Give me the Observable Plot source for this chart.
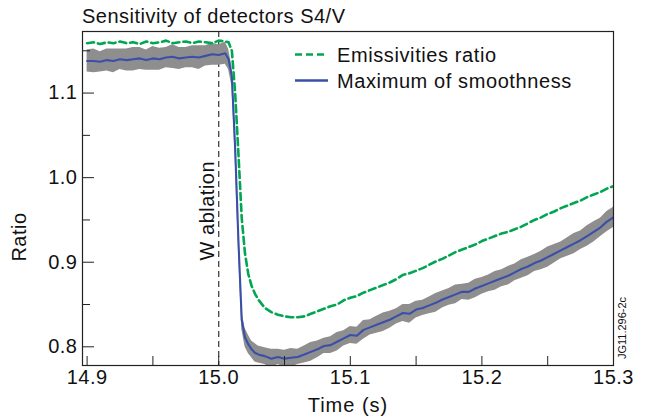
<!DOCTYPE html>
<html><head><meta charset="utf-8">
<script src="https://cdn.jsdelivr.net/npm/d3@7"></script>
<script src="https://cdn.jsdelivr.net/npm/@observablehq/plot@0.6"></script>
<style>
body{margin:0;background:#fff;font-family:"Liberation Sans",Arial,Helvetica,sans-serif;}
#wrap{position:relative;width:646px;height:420px;overflow:hidden;}
#wrap svg.ov{position:absolute;left:0;top:0;pointer-events:none;}
#wrap svg text{letter-spacing:0.5px;}
</style></head><body><div id="wrap"></div>
<script>
const time = [14.900,14.905,14.910,14.915,14.920,14.925,14.930,14.935,14.940,14.945,14.950,14.955,14.960,14.965,14.970,14.975,14.980,14.985,14.990,14.995,15.000,15.005,
15.0075,15.010,15.0125,15.015,15.0175,15.020,15.0225,15.025,15.0275,15.030,
15.035,15.040,15.045,15.050,15.055,15.060,15.065,15.070,15.075,15.080,
15.085,15.090,15.095,15.100,15.105,15.110,15.115,15.120,15.125,15.130,
15.135,15.140,15.145,15.150,15.155,15.160,15.165,15.170,15.175,15.180,
15.185,15.190,15.195,15.200,15.205,15.210,15.215,15.220,15.225,15.230,
15.235,15.240,15.245,15.250,15.255,15.260,15.265,15.270,15.275,15.280,
15.285,15.290,15.295,15.300];
const emissivityRatio = [1.159,1.160,1.158,1.160,1.159,1.161,1.159,1.160,1.158,1.161,1.159,1.160,1.162,1.159,1.160,1.161,1.159,1.161,1.160,1.159,1.162,1.161,
1.160,1.150,1.100,1.028,0.952,0.910,0.886,0.872,0.863,0.856,
0.846,0.841,0.838,0.836,0.835,0.835,0.836,0.839,0.842,0.845,
0.848,0.850,0.855,0.858,0.860,0.864,0.867,0.870,0.873,0.876,
0.880,0.885,0.887,0.890,0.893,0.897,0.901,0.904,0.908,0.912,
0.915,0.918,0.921,0.925,0.928,0.931,0.934,0.936,0.939,0.942,
0.946,0.950,0.953,0.957,0.960,0.964,0.967,0.970,0.973,0.977,
0.980,0.983,0.987,0.990];
const maxSmoothness = [1.138,1.138,1.137,1.139,1.138,1.140,1.139,1.140,1.141,1.139,1.141,1.140,1.142,1.143,1.141,1.142,1.143,1.142,1.144,1.146,1.145,1.147,
1.140,1.120,1.035,0.925,0.832,0.811,0.803,0.797,0.793,0.791,
0.789,0.786,0.788,0.786,0.787,0.788,0.791,0.794,0.797,0.801,
0.802,0.806,0.810,0.814,0.813,0.820,0.823,0.826,0.829,0.832,
0.836,0.840,0.839,0.844,0.846,0.849,0.852,0.856,0.859,0.862,
0.865,0.865,0.869,0.872,0.875,0.878,0.881,0.884,0.888,0.892,
0.895,0.899,0.902,0.906,0.910,0.914,0.918,0.922,0.926,0.931,
0.936,0.941,0.948,0.953];
const uncertainty = [0.013,0.014,0.012,0.013,0.014,0.012,0.013,0.014,0.013,0.012,0.014,0.013,0.012,0.014,0.013,0.012,0.013,0.014,0.012,0.013,0.012,0.013,
0.012,0.012,0.011,0.011,0.011,0.011,0.011,0.010,0.011,0.010,
0.010,0.011,0.009,0.010,0.011,0.009,0.010,0.011,0.010,0.009,
0.010,0.011,0.009,0.010,0.010,0.011,0.009,0.010,0.011,0.010,
0.009,0.010,0.011,0.010,0.009,0.010,0.011,0.010,0.010,0.011,
0.009,0.010,0.011,0.010,0.010,0.011,0.010,0.011,0.010,0.011,
0.011,0.010,0.011,0.012,0.011,0.010,0.011,0.012,0.011,0.012,
0.012,0.011,0.012,0.012];
const xMajorTicks = [14.9,15.0,15.1,15.2,15.3];
const xMinorTicks = [14.95,15.05,15.15,15.25];
const yMajorTicks = [0.8,0.9,1.0,1.1];
const yMinorTicks = [0.85,0.95,1.05,1.15];
const events = [15.0];
const annotations = [{t:15.0, v:0.961, label:"W ablation"}];
const seriesNames = ["Emissivities ratio","Maximum of smoothness"];
const titleText = "Sensitivity of detectors S4/V";
const xLabel = "Time (s)";
const yLabel = "Ratio";
const figureId = "JG11.296-2c";

const rows = time.map((t,i)=>({t, e:emissivityRatio[i], m:maxSmoothness[i], s:uncertainty[i]}));
const GREEN="#00a651", BLUE="#3a50a8", GRAY="#8e8e8e";
const FONT='"Liberation Sans",Arial,Helvetica,sans-serif';

const chart = Plot.plot({
  width:646, height:420,
  marginLeft:82, marginRight:33, marginTop:31, marginBottom:55,
  style:{fontFamily:FONT, fontSize:"20px", color:"#111", background:"transparent"},
  x:{domain:[14.8965,15.3]},
  y:{domain:[0.7779,1.1728]},
  marks:[
    Plot.ruleX(events,{stroke:"#444", strokeDasharray:"6,4", strokeWidth:1.3}),
    Plot.areaY(rows,{x:"t", y1:d=>d.m-d.s, y2:d=>d.m+d.s, fill:GRAY, clip:true}),
    Plot.line(rows,{x:"t", y:"m", stroke:BLUE, strokeWidth:2.1, clip:true}),
    Plot.line(rows,{x:"t", y:"e", stroke:GREEN, strokeWidth:2.6, strokeDasharray:"7,4", clip:true}),
    Plot.text(annotations,{x:"t", y:"v", text:"label", rotate:-90, dx:-11, fontSize:20, fill:"#111"}),
    Plot.axisX(xMajorTicks.concat(xMinorTicks),{tickSize:-9, text:null, label:null, stroke:"#222"}),
    Plot.axisX(xMajorTicks,{tickSize:0, tickPadding:4, tickFormat:d3.format(".1f"), label:null, fontSize:20, fill:"#111"}),
    Plot.axisY(yMajorTicks,{tickSize:-12, text:null, label:null, stroke:"#222"}),
    Plot.axisY(yMinorTicks,{tickSize:-8, text:null, label:null, stroke:"#222"}),
    Plot.axisY(yMajorTicks,{tickSize:0, tickPadding:5, tickFormat:d3.format(".1f"), label:null, fontSize:20, fill:"#111"}),
    Plot.frame({stroke:"#222", strokeWidth:1.2})
  ]
});
const wrap = document.getElementById("wrap");
wrap.appendChild(chart);

// overlay: title, axis titles, legend, figure id
const ov = d3.select(wrap).append("svg").attr("class","ov").attr("width",646).attr("height",420)
  .style("font-family",FONT).attr("fill","#111");
ov.append("text").attr("x",82).attr("y",22.5).attr("font-size",20).text(titleText);
ov.append("text").attr("x",348).attr("y",412).attr("font-size",20).attr("text-anchor","middle").style("letter-spacing","1px").text(xLabel);
ov.append("text").attr("transform","translate(26,237) rotate(-90)").attr("font-size",20).attr("text-anchor","middle").text(yLabel);
ov.append("text").attr("transform","translate(626,328) rotate(-90)").attr("font-size",11).attr("text-anchor","middle").style("letter-spacing","0px").text(figureId);
const leg = [{name:seriesNames[0], color:GREEN, dash:"7,4", w:2.6, y:54.5},{name:seriesNames[1], color:BLUE, dash:null, w:2.4, y:80.5}];
leg.forEach(l=>{
  ov.append("line").attr("x1",295).attr("x2",328).attr("y1",l.y).attr("y2",l.y)
    .attr("stroke",l.color).attr("stroke-width",l.w).attr("stroke-dasharray",l.dash);
  ov.append("text").attr("x",337).attr("y",l.y+7).attr("font-size",20).style("letter-spacing","0.6px").text(l.name);
});
</script></body></html>
